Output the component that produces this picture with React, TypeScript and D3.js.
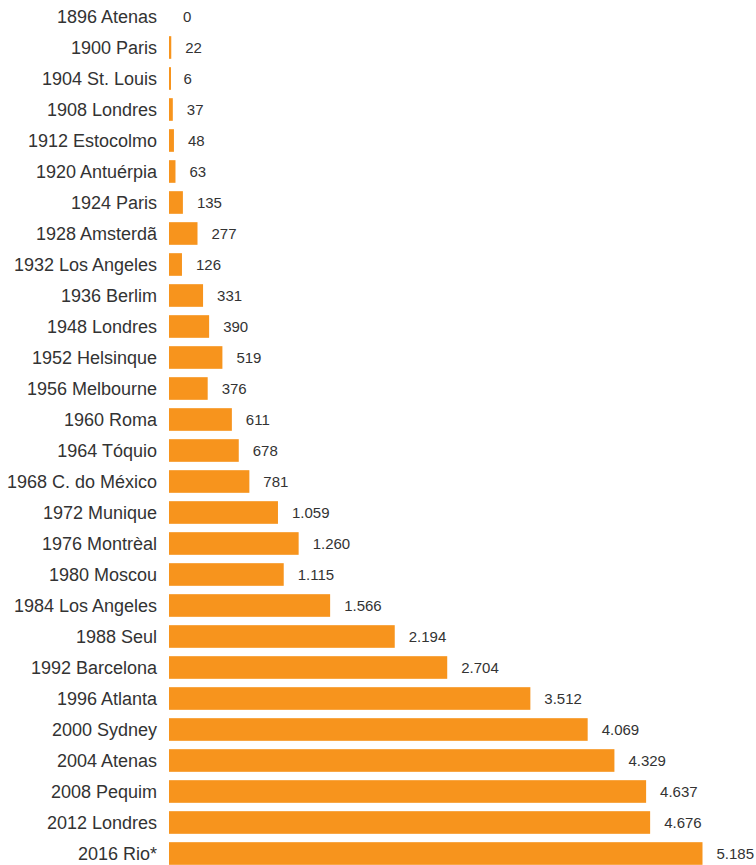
import React from "react";
import * as d3 from "d3";

const games = [
  "1896 Atenas", "1900 Paris", "1904 St. Louis", "1908 Londres", "1912 Estocolmo",
  "1920 Antuérpia", "1924 Paris", "1928 Amsterdã", "1932 Los Angeles", "1936 Berlim",
  "1948 Londres", "1952 Helsinque", "1956 Melbourne", "1960 Roma", "1964 Tóquio",
  "1968 C. do México", "1972 Munique", "1976 Montrèal", "1980 Moscou", "1984 Los Angeles",
  "1988 Seul", "1992 Barcelona", "1996 Atlanta", "2000 Sydney", "2004 Atenas",
  "2008 Pequim", "2012 Londres", "2016 Rio*",
];
const values = [
  0, 22, 6, 37, 48, 63, 135, 277, 126, 331, 390, 519, 376, 611, 678, 781,
  1059, 1260, 1115, 1566, 2194, 2704, 3512, 4069, 4329, 4637, 4676, 5185,
];

const fmt = (v: number) => d3.format(",")(v).replace(/,/g, ".");

export default function App() {
  const W = 756, H = 865;
  const x0 = 169;
  const x = d3.scaleLinear().domain([0, 5185]).range([x0, 702.5]);
  const y = d3.scaleBand().domain(games).range([1, 1 + 31 * 28]).paddingInner(0.27).paddingOuter(0.135);
  const font = "'Liberation Sans', Arial, sans-serif";
  return (
    <svg width={W} height={H} style={{ position: "absolute", left: 0, top: 0, background: "#fff" }}>
      {games.map((g, i) => {
        const yc = (y(g) as number) + y.bandwidth() / 2;
        const v = values[i];
        return (
          <g key={g}>
            <text x={157} y={yc} dy="0.35em" textAnchor="end" fontFamily={font} fontSize={18} fill="#333">{g}</text>
            {v > 0 && (
              <rect x={x0} y={y(g)} width={Math.max(x(v) - x0, 2)} height={y.bandwidth()} fill="#F7941D" />
            )}
            <text x={x(v) + 14} y={yc} dy="0.35em" fontFamily={font} fontSize={15} fill="#333">{fmt(v)}</text>
          </g>
        );
      })}
    </svg>
  );
}
